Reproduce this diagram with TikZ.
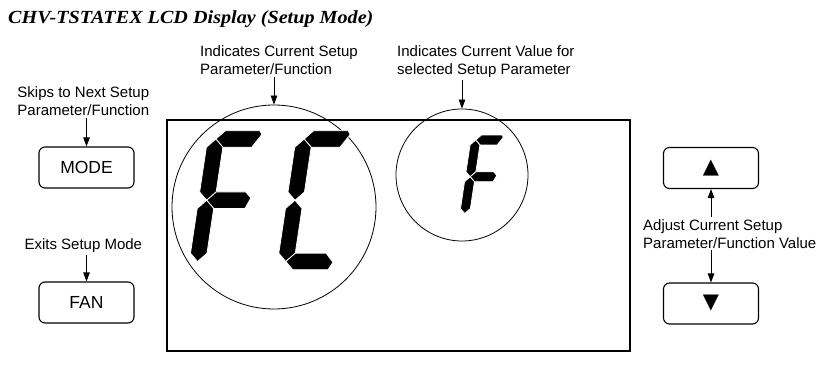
\documentclass[tikz,border=0pt]{standalone}
\usepackage{fontspec}
\setmainfont{Liberation Sans}
\newfontfamily\titlefont[FakeStretch=1.09]{Liberation Serif}
\newfontfamily\symfont{DejaVu Sans}
\usepackage{tikz}
\usetikzlibrary{arrows.meta, positioning, calc}

\tikzset{
  seg/.style={fill=black, draw=white, line width=0.8pt},
  lcd/.style={x={(1pt,0pt)}, y={(0.15pt,1pt)}},
  lcdsmall/.style={x={(0.6pt,0pt)}, y={(0.09pt,0.6pt)}},
  lbl/.style={font=\fontsize{15}{18}\selectfont, inner sep=2pt},
  btn/.style={draw, rounded corners=6pt, line width=1.1pt, minimum width=95pt, minimum height=41pt, font=\fontsize{17.5}{20}\selectfont},
  ring/.style={draw, circle, line width=0.8pt, inner sep=0pt},
  arr/.style={-{Triangle[length=9pt,width=6.5pt]}, line width=0.8pt},
  pics/segA/.style={code={\filldraw[seg] (8,122.5) -- (16.25,130.75) -- (50.8,130.75) -- (53.3,127) -- (45.1,114.25) -- (16.25,114.25) -- cycle;}},
  pics/segF/.style={code={\filldraw[seg] (8,61.25) -- (16.25,69.5) -- (16.25,114.25) -- (8,122.5) -- (-0.25,114.25) -- (-0.25,69.5) -- cycle;}},
  pics/segG/.style={code={\filldraw[seg] (8,61.25) -- (16.25,69.5) -- (45.9,69.5) -- (51.9,63.5) -- (47.4,53) -- (16.25,53) -- cycle;}},
  pics/segE/.style={code={\filldraw[seg] (8,0) -- (16.25,8.25) -- (16.25,53) -- (8,61.25) -- (-0.25,53) -- (-0.25,8.25) -- cycle;}},
  pics/segD/.style={code={\filldraw[seg] (8,0) -- (16.25,8.25) -- (47.1,8.25) -- (55.3,-0.8) -- (51.5,-8.25) -- (16.25,-8.25) -- cycle;}},
}

\begin{document}
\begin{tikzpicture}[x=1pt,y=1pt]
  \useasboundingbox (0,0) rectangle (827,369);
  \node[anchor=base west, inner sep=0pt, font=\titlefont\bfseries\itshape\fontsize{18.5}{21}\selectfont] (title) at (8,345) {CHV-TSTATEX LCD Display (Setup Mode)};
%--------------------------------------------------------------------------
  \draw[line width=1.6pt] (167,18) rectangle (630,249);
  \node[ring, minimum size=204pt] (cirFC) at (274,162) {};
  \node[ring, minimum size=132pt] (cirF) at (462,194) {};
  \begin{scope}[shift={(189.5,107.5)}, lcd]
    \pic {segA}; \pic {segF}; \pic {segG}; \pic {segE};
  \end{scope}
  \begin{scope}[shift={(277.8,107.5)}, lcd]
    \pic {segA}; \pic {segF}; \pic {segE}; \pic {segD};
  \end{scope}
  \begin{scope}[shift={(459.9,155.5)}, lcdsmall]
    \pic {segA}; \pic {segF}; \pic {segG}; \pic {segE};
  \end{scope}
%--------------------------------------------------------------------------
  \node[btn] (btnMode) at (86.5,201.5) {MODE};
  \node[btn] (btnFan) at (86.5,66.5) {FAN};
  \node[btn, font=\symfont\fontsize{21}{24}\selectfont] (btnUp) at (711,201) {▲};
  \node[btn, font=\symfont\fontsize{21}{24}\selectfont] (btnDown) at (711,65.5) {▼};
%--------------------------------------------------------------------------
  \node[lbl, align=left, anchor=north west] (labCur) at (198,325.3) {Indicates Current Setup\\Parameter/Function};
  \node[lbl, align=left, anchor=north west] (labVal) at (395,325.3) {Indicates Current Value for\\selected Setup Parameter};
  \node[lbl, align=center, anchor=north] (labSkip) at (83.3,284.6) {Skips to Next Setup\\Parameter/Function};
  \node[lbl, anchor=base] (labExit) at (83.3,119) {Exits Setup Mode};
  \node[lbl, align=left, anchor=north west] (labAdj) at (641,152) {Adjust Current Setup\\Parameter/Function Value};
%--------------------------------------------------------------------------
  \draw[arr] (cirFC.north |- labCur.south) -- (cirFC.north);
  \draw[arr] (cirF.north |- labVal.south) -- (cirF.north);
  \draw[arr] (btnMode.north |- labSkip.south) -- (btnMode.north);
  \draw[arr] (btnFan.north |- labExit.south) -- (btnFan.north);
  \draw[arr] (btnUp.south |- labAdj.north) -- (btnUp.south);
  \draw[arr] (btnDown.north |- labAdj.south) -- (btnDown.north);
\end{tikzpicture}
\end{document}
